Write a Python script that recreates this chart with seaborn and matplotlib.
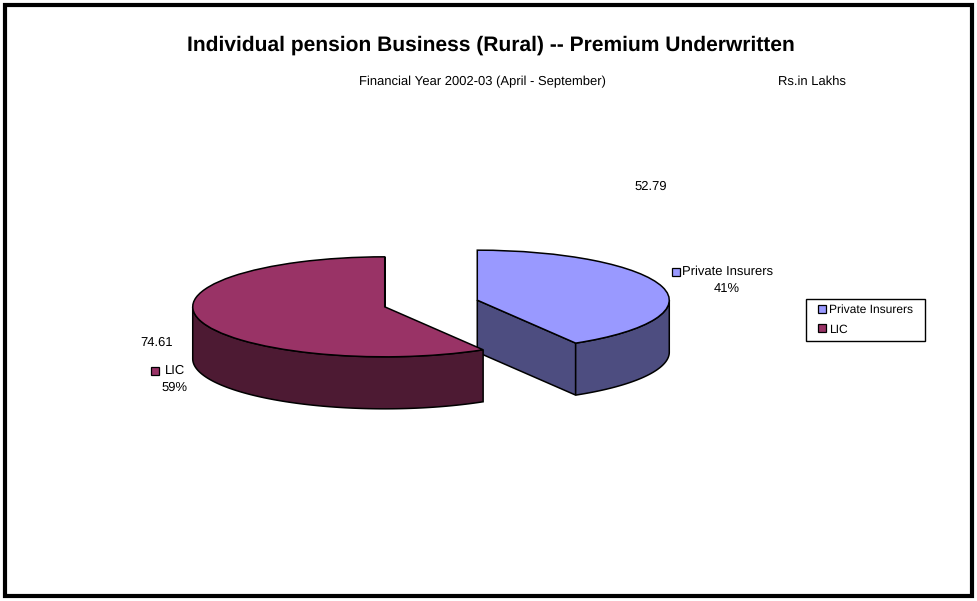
import numpy as np
import matplotlib
matplotlib.use("Agg")
import matplotlib.pyplot as plt
from matplotlib.legend_handler import HandlerPatch
from matplotlib.patches import Patch, Rectangle
import seaborn as sns

# data
insurers = ["Private Insurers", "LIC"]
premium = [52.79, 74.61]
premium_labels = ["52.79", "74.61"]
percent_labels = ["41%", "59%"]

top_colors = ["#9999FF", "#993366"]
side_colors = ["#4D4D80", "#4D1A33"]

W, H = 977, 601
CX, CY = 431, 303.5  # pie centre, pixels
RX, RY = 192, 50     # ellipse radii, pixels
DEPTH = 52 / RY      # height of the pie, in squashed units

sns.set_theme(style="white")
plt.rcParams["font.family"] = ["Liberation Sans", "DejaVu Sans"]
plt.rcParams["text.color"] = "black"
plt.rcParams["text.hinting"] = "no_hinting"
plt.rcParams["text.hinting_factor"] = 1


def fx(x):
    return x / W


def fy(y):
    return 1 - y / H


def legend_key(legend, orig_handle, xdescent, ydescent, width, height, fontsize):
    # 8 px square at the right of the handle box
    return Rectangle((width - 5.76, height / 2 - 2.88), 5.76, 5.76)


fig = plt.figure(figsize=(W / 100, H / 100), dpi=100, facecolor="white")
ax = fig.add_axes([0, 0, 1, 1])

wedges, _ = ax.pie(premium, colors=top_colors, explode=[0.25, 0.25], startangle=90,
                   counterclock=False, radius=1,
                   wedgeprops=dict(edgecolor="black", linewidth=1.1, zorder=5))

# squash the pie into an ellipse
ax.set_aspect("auto")
ax.set_xlim(-CX / RX, (W - CX) / RX)
ax.set_ylim((CY - H) / RY, CY / RY)
ax.set_axis_off()

# extrude the wedges downwards
for wedge, side in zip(wedges, side_colors):
    x0, y0 = wedge.center
    t1 = wedge.theta1
    end_x = x0 + np.cos(np.radians(t1))
    end_y = y0 + np.sin(np.radians(t1))
    ax.fill([x0, end_x, end_x, x0], [y0, end_y, end_y - DEPTH, y0 - DEPTH],
            facecolor=side, edgecolor="black", linewidth=1.1, zorder=2)
    # front part of the rim only
    t = np.radians(np.linspace(max(wedge.theta1, -180), min(wedge.theta2, 0), 120))
    rim_x = x0 + np.cos(t)
    rim_y = y0 + np.sin(t)
    ax.fill(np.r_[rim_x, rim_x[::-1]], np.r_[rim_y, rim_y[::-1] - DEPTH],
            facecolor=side, edgecolor="black", linewidth=1.1, zorder=3)

# titles
small = 9.15
ax.text(fx(491), fy(45.5), "Individual pension Business (Rural) -- Premium Underwritten",
        transform=ax.transAxes, ha="center", va="center", fontsize=15.1, fontweight="bold")
ax.text(fx(482), fy(81.5), "Financial Year 2002-03 (April - September)",
        transform=ax.transAxes, ha="center", va="center", fontsize=small)
ax.text(fx(812), fy(82), "Rs.in Lakhs",
        transform=ax.transAxes, ha="center", va="center", fontsize=small)

# data labels
label_value_pos = [(651, 187), (157, 343)]
label_name_pos = [(727.5, 272), (175, 371)]
label_pct_pos = [(727, 289), (174.5, 388)]
label_key_pos = [(676, 272), (155, 371)]
for i in range(len(insurers)):
    ax.text(fx(label_value_pos[i][0]), fy(label_value_pos[i][1]), premium_labels[i],
            transform=ax.transAxes, ha="center", va="center", fontsize=small)
    ax.text(fx(label_name_pos[i][0]), fy(label_name_pos[i][1]), insurers[i],
            transform=ax.transAxes, ha="center", va="center", fontsize=small)
    ax.text(fx(label_pct_pos[i][0]), fy(label_pct_pos[i][1]), percent_labels[i],
            transform=ax.transAxes, ha="center", va="center", fontsize=small)
    ax.add_patch(Rectangle((fx(label_key_pos[i][0] - 4), fy(label_key_pos[i][1] + 4)),
                           8 / W, 8 / H, transform=ax.transAxes, facecolor=top_colors[i],
                           edgecolor="black", linewidth=0.9, zorder=6))

# legend box
ax.add_patch(Rectangle((fx(806), fy(341)), 119 / W, 42 / H, transform=ax.transAxes,
                       facecolor="white", edgecolor="black", linewidth=1.0, zorder=6))
handles = [Patch(facecolor=c, edgecolor="black", linewidth=0.9) for c in top_colors]
leg = ax.legend(handles, insurers, loc="upper left",
                bbox_to_anchor=(fx(806.5), fy(299)), bbox_transform=ax.transAxes,
                fontsize=8.7, frameon=False, borderaxespad=0, borderpad=0.44,
                handlelength=1.18, handleheight=0.64, handletextpad=0.25, labelspacing=0.68,
                handler_map={Patch: HandlerPatch(patch_func=legend_key)})
leg.set_zorder(7)

# outer frame of the picture
ax.add_patch(Rectangle((fx(5), fy(595.5)), 967 / W, 590.5 / H, transform=ax.transAxes,
                       fill=False, edgecolor="black", linewidth=3, zorder=8))

fig.savefig("out.png", dpi=100)
